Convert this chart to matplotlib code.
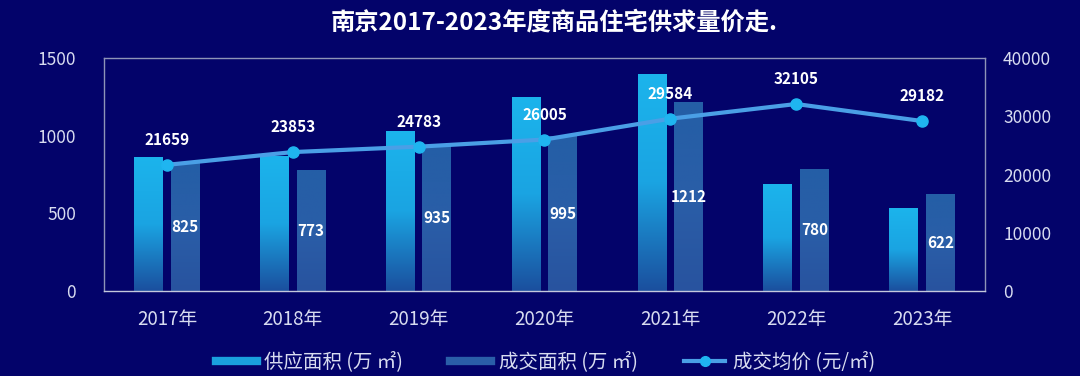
# -*- coding: utf-8 -*-
import numpy as np
import matplotlib
matplotlib.use('Agg')
import matplotlib.pyplot as plt
from matplotlib.colors import LinearSegmentedColormap
from matplotlib.lines import Line2D

plt.rcParams['font.family'] = ['Noto Sans CJK SC', 'DejaVu Sans']

years = ['2017年', '2018年', '2019年', '2020年', '2021年', '2022年', '2023年']
supply = [861, 866, 1029, 1245, 1395, 683, 534]
deal = [825, 773, 935, 995, 1212, 780, 622]
price = [21659, 23853, 24783, 26005, 29584, 32105, 29182]

title = '南京2017-2023年度商品住宅供求量价走.'
legend_labels = ['供应面积 (万 ㎡)', '成交面积 (万 ㎡)', '成交均价 (元/㎡)']

BG = '#03036a'
TXT = '#d8dcf0'
FRAME = '#8e94b8'


def gradient_bars(ax, bars, cmap):
    grad = np.linspace(0, 1, 256).reshape(-1, 1)
    for b in bars:
        x0, y0 = b.get_x(), b.get_y()
        w, h = b.get_width(), b.get_height()
        ax.imshow(grad, cmap=cmap, extent=[x0, x0 + w, y0, y0 + h],
                  origin='lower', aspect='auto', zorder=2)
        b.set_visible(False)


def plot():
    fig = plt.figure(figsize=(10.8, 3.76), dpi=100, facecolor=BG)
    ax = fig.add_axes([0.0963, 0.226, 0.8157, 0.6197])
    ax.set_facecolor(BG)
    x = np.arange(len(years))
    w = 0.23
    b1 = ax.bar(x - 0.145, supply, w, color='#1a9ad8', zorder=2)
    b2 = ax.bar(x + 0.145, deal, w, color='#2a5ea8', zorder=2)

    supply_cmap = LinearSegmentedColormap.from_list('s', ['#1b4f9e', '#1aa4e2', '#1cb4ec'])
    deal_cmap = LinearSegmentedColormap.from_list('d', ['#28539f', '#2a5ea8', '#245ea6'])
    gradient_bars(ax, b1, supply_cmap)
    gradient_bars(ax, b2, deal_cmap)

    for xi, v in zip(x, deal):
        ax.text(xi + 0.145, v / 2, str(v), ha='center', va='center',
                color='white', fontsize=11, fontweight='bold', zorder=3)

    ax.set_xlim(-0.5, 6.5)
    ax.set_ylim(0, 1500)
    ax.set_yticks([0, 500, 1000, 1500])
    ax.set_xticks(x)
    ax.set_xticklabels(years)
    ax.tick_params(axis='both', length=0, colors=TXT, labelsize=12.5)
    ax.tick_params(axis='x', labelsize=13.5, pad=13)
    ax.tick_params(axis='y', pad=20)
    for s in ax.spines.values():
        s.set_color(FRAME)
        s.set_linewidth(1)
    ax.spines['bottom'].set_color('#c4c8dc')

    ax2 = ax.twinx()
    ax2.plot(x, price, color='#4a9fe6', lw=3, marker='o', markersize=8,
             markerfacecolor='#1fb5f0', markeredgecolor='#1fb5f0', zorder=4)
    for xi, v in zip(x, price):
        ax2.annotate(str(v), (xi, v), xytext=(0, 18), textcoords='offset points',
                     ha='center', va='center', color='white', fontsize=11,
                     fontweight='bold')
    ax2.set_ylim(0, 40000)
    ax2.set_yticks([0, 10000, 20000, 30000, 40000])
    ax2.tick_params(axis='y', length=0, colors=TXT, labelsize=12.5, pad=13)
    for s in ax2.spines.values():
        s.set_visible(False)
    ax.set_xlim(-0.5, 6.5)

    fig.text(0.513, 0.941, title, ha='center', va='center', color='white',
             fontsize=17.5, fontweight='bold')

    handles = [Line2D([], [], color='#1aa0de', lw=6),
               Line2D([], [], color='#2a5ea8', lw=6),
               Line2D([], [], color='#4a9fe6', lw=3, marker='o', markersize=7,
                      markerfacecolor='#1fb5f0', markeredgecolor='#1fb5f0')]
    fig.legend(handles, legend_labels, loc='center', bbox_to_anchor=(0.505, 0.037),
               ncol=3, frameon=False, fontsize=14, labelcolor=TXT,
               handlelength=2.1, handletextpad=0.4, columnspacing=2.4)

    fig.savefig('out.png', dpi=100, facecolor=BG)


if __name__ == '__main__':
    plot()
